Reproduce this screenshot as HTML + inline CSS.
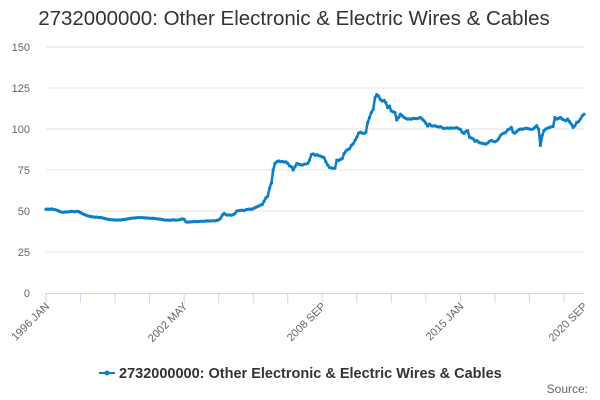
<!DOCTYPE html>
<html><head><meta charset="utf-8"><style>
html,body{margin:0;padding:0;background:#fff;}
svg{display:block;font-family:"Liberation Sans",sans-serif;}
</style></head><body>
<svg id="chart" width="600" height="400" viewBox="0 0 600 400">
<text x="294" y="25" text-anchor="middle" font-size="20.5" fill="#333">2732000000: Other Electronic &amp; Electric Wires &amp; Cables</text>
<g id="grid"></g><g id="yticks"></g><g id="xaxis"></g><g id="series"></g>
<g>
<line x1="99" y1="373" x2="115" y2="373" stroke="#0a7fc6" stroke-width="2"/>
<circle cx="107" cy="373" r="2.5" fill="#0a7fc6"/>
<text x="119" y="378" font-size="14.5" font-weight="bold" fill="#333">2732000000: Other Electronic &amp; Electric Wires &amp; Cables</text>
</g>
<text x="588" y="393" text-anchor="end" font-size="12" fill="#666">Source:</text>
</svg>
<script>
const yTicks=[0,25,50,75,100,125,150];
const xLabels=["1996 JAN","2002 MAY","2008 SEP","2015 JAN","2020 SEP"];
const xLabelMonths=[0,76,152,228,296];
const values=[
51,51.2,51,51.3,51,50.8,50.5,50,49.5,49.2,49.3,49.5,
49.4,49.6,49.8,49.7,49.5,49.8,49.6,49,48.4,47.9,47.5,47,
46.8,46.5,46.4,46.2,46.3,46,46.1,45.8,45.5,45.2,45,44.8,
44.7,44.6,44.5,44.4,44.6,44.5,44.7,44.8,45,45.2,45.4,45.6,
45.7,45.8,45.9,46,45.9,46,45.8,45.8,45.7,45.6,45.5,45.6,
45.4,45.2,45.1,45,44.8,44.5,44.4,44.5,44.3,44.5,44.6,44.5,
44.4,44.6,44.8,45.2,44.9,43.4,43.2,43.3,43.4,43.5,43.6,43.5,
43.6,43.7,43.8,43.7,43.9,44,43.9,44,44.1,44,44.3,44.6,
45.5,47.5,48.5,47.8,47.5,47.6,47.4,47.8,48.5,50,50.2,50.4,
50.5,50.2,50.8,51,51.2,51,51.5,52,52.5,53,53.6,54,
56,58,59,64,67,75,79,80,80.5,80,80.3,79.8,
80,79,77.5,77,75,77,79,78.5,78.3,78,78.5,78.7,
79,81,84.5,84.8,84,84.3,83.8,83.5,83,82.5,80,78,
76.5,76.3,76,76.2,81,80.8,81.5,82,85,86.5,87.5,88,
90,91,93,95,97.5,98,97.5,97.3,98,104,107,110,
112,119,121,120,118,117,117.5,116,113,114,111,110.5,
110,105.5,107,109,108,107,106.5,106,106.2,106,106.5,106.4,
106.3,106.6,107,106,105,103.5,101.8,103,102,101.8,102,101.5,
101.2,101.5,100.8,100.3,100.5,100.6,100.4,100.7,100.5,100.6,100.8,100.2,
99.8,98,97.3,98.5,99,95,94.5,94,92.5,93,92,91.5,
91.3,91,90.8,91.5,92.5,93,92.5,92.2,92.8,94,96,97,
97.5,98,99.5,100,101,98,97.5,98.5,99.5,100,99.8,100.2,
100.5,100.3,100,99.8,100,101,102,100,90,96,99,100,
100.5,101,101.3,101.5,107,106,106.5,107,106,105.5,105,106,
104.5,103,101,102,104,104.5,106,108,109
];
const NS="http://www.w3.org/2000/svg";
const X0=46,X1=584,Y0=293,Y1=47,YMAX=150,NM=values.length-1;
const xs=m=>X0+(X1-X0)*m/NM, ys=v=>Y0-(Y0-Y1)*v/YMAX;
function mk(t,a,p){const e=document.createElementNS(NS,t);for(const k in a)e.setAttribute(k,a[k]);p.appendChild(e);return e;}
const grid=document.getElementById('grid'),yt=document.getElementById('yticks'),xa=document.getElementById('xaxis'),sr=document.getElementById('series');
yTicks.forEach(v=>{
 if(v>0){const g=mk('line',{x1:X0,x2:X1,y1:ys(v),y2:ys(v),stroke:'#e6e6e6','stroke-width':1},grid);
 
 }
 const t=mk('text',{x:30,y:ys(v)+4,'text-anchor':'end','font-size':11,fill:'#666'},yt);t.textContent=v;
 
 
});
const ax=mk('line',{x1:X0,x2:X1,y1:Y0+0.5,y2:Y0+0.5,stroke:'#ccd6eb','stroke-width':1},xa);


for(let m=0;m<=NM;m+=19){const tk=mk('line',{x1:xs(m),x2:xs(m),y1:Y0,y2:Y0+10,stroke:'#ccd6eb'},xa);
 
 }
xLabels.forEach((l,i)=>{const x=xs(xLabelMonths[i]);
 const t=mk('text',{x:x+4,y:Y0+14,'text-anchor':'end','font-size':11,fill:'#666',transform:`rotate(-45 ${x+4} ${Y0+14})`},xa);t.textContent=l;
 
 });
const pts=values.map((v,i)=>xs(i).toFixed(1)+','+ys(v).toFixed(1)).join(' ');
const pl=mk('polyline',{points:pts,fill:'none',stroke:'#0a7fc6','stroke-width':2.5,'stroke-linejoin':'round'},sr);


values.forEach((v,i)=>{const c=mk('circle',{cx:xs(i),cy:ys(v),r:1.6,fill:'#0a7fc6'},sr);
 
 });
</script>
</body></html>
